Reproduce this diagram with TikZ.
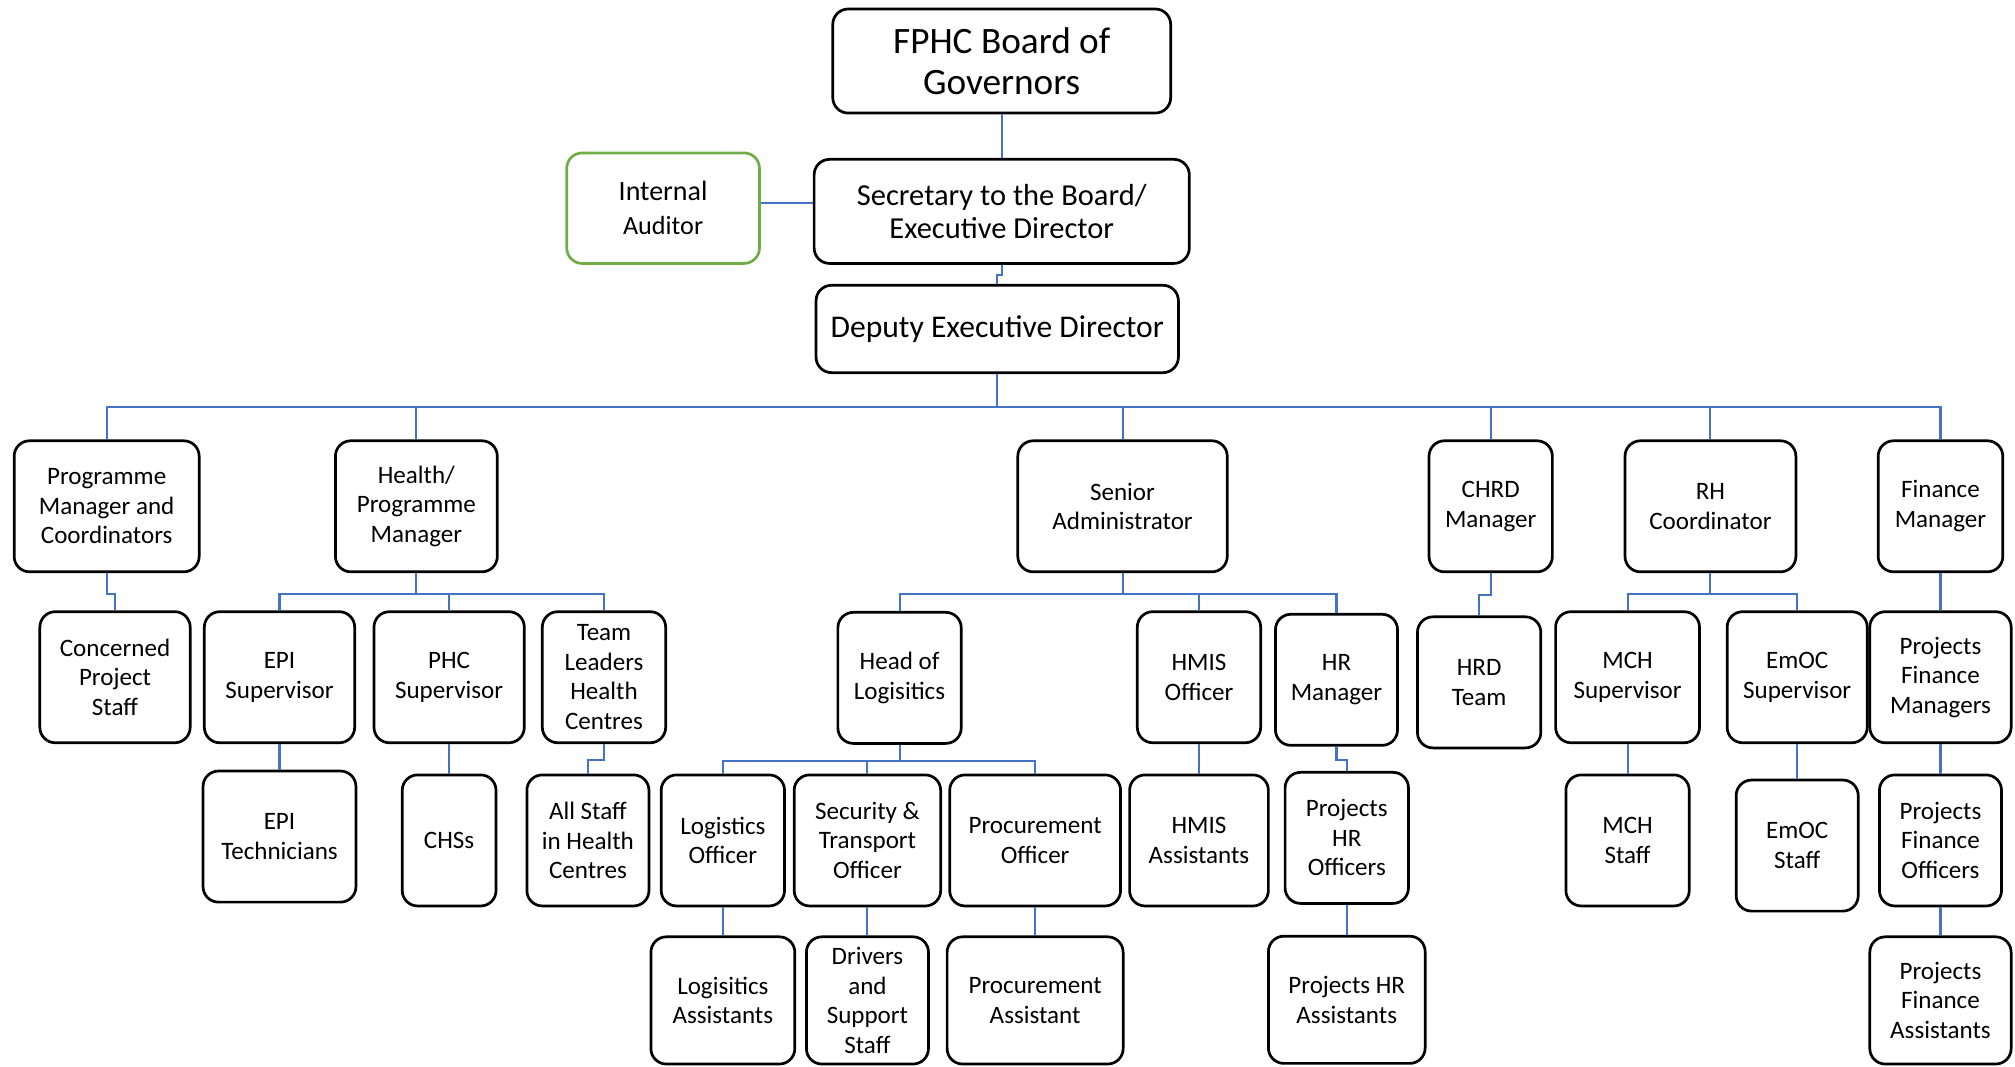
\documentclass[tikz,border=0pt]{standalone}
\usepackage{fontspec}
\setmainfont{Carlito}
\definecolor{linkblue}{HTML}{4472C4}
\definecolor{audgreen}{HTML}{70AD47}

\begin{document}
\begin{tikzpicture}[x=0.02cm,y=-0.02cm,
  box/.style={draw=black,line width=1.2pt,rounded corners=0.24cm,align=center,
    inner sep=1pt,font=\fontsize{11.1pt}{13.1pt}\selectfont},
  unit/.style={box,minimum height=2.04cm},
  link/.style={draw=linkblue,line width=0.9pt}]
\useasboundingbox (0,0) rectangle (1568,830);
% board and directors
\node[box,minimum width=5.26cm,minimum height=1.62cm,font=\fontsize{16.5pt}{18.2pt}\selectfont] (board) at (779.5,47.5) {FPHC Board of\\Governors};
\node[box,minimum width=5.84cm,minimum height=1.62cm,font=\fontsize{13.5pt}{14.8pt}\selectfont] (sec) at (779.5,164.5) {Secretary to the Board/\\Executive Director};
\node[box,draw=audgreen,minimum width=3.0cm,minimum height=1.72cm] (aud) at (516,162) {{\fontsize{12.4pt}{14.8pt}\selectfont Internal}\\[2pt]{\fontsize{11.6pt}{13.1pt}\selectfont Auditor}};
\node[box,minimum width=5.64cm,minimum height=1.36cm,font=\fontsize{14pt}{14.8pt}\selectfont] (dep) at (776,256) {Deputy Executive Director};
% heads
\node[unit,minimum width=2.88cm] (pm) at (83,394) {Programme\\Manager and\\Coordinators};
\node[unit,minimum width=2.52cm] (health) at (324,394) {Health/\\Programme\\Manager};
\node[unit,minimum width=3.26cm] (senior) at (873.5,394) {Senior\\Administrator};
\node[unit,minimum width=1.92cm] (chrd) at (1160,394) {CHRD\\Manager};
\node[unit,minimum width=2.66cm] (rh) at (1331,394) {RH\\Coordinator};
\node[unit,minimum width=1.94cm] (fin) at (1510,394) {Finance\\Manager};
% third row
\node[unit,minimum width=2.34cm] (cps) at (89.5,527) {Concerned\\Project\\Staff};
\node[unit,minimum width=2.34cm] (episup) at (217.5,527) {EPI\\Supervisor};
\node[unit,minimum width=2.34cm] (phcsup) at (349.5,527) {PHC\\Supervisor};
\node[unit,minimum width=1.92cm] (tl) at (470,527) {Team\\Leaders\\Health\\Centres};
\node[unit,minimum width=1.92cm] (hol) at (700,527.5) {Head of\\Logisitics};
\node[unit,minimum width=1.92cm] (hmiso) at (933,527) {HMIS\\Officer};
\node[unit,minimum width=1.90cm] (hrm) at (1040,529) {HR\\Manager};
\node[unit,minimum width=1.92cm] (hrd) at (1151,531) {HRD\\Team};
\node[unit,minimum width=2.24cm] (mchsup) at (1266.5,527) {MCH\\Supervisor};
\node[unit,minimum width=2.18cm] (emocsup) at (1398.5,527) {EmOC\\Supervisor};
\node[unit,minimum width=2.20cm] (pfm) at (1510,527) {Projects\\Finance\\Managers};
% fourth row
\node[unit,minimum width=2.38cm] (epitech) at (217.5,651) {EPI\\Technicians};
\node[unit,minimum width=1.46cm] (chss) at (349.5,654) {CHSs};
\node[unit,minimum width=1.90cm] (allstaff) at (457.5,654) {All Staff\\in Health\\Centres};
\node[unit,minimum width=1.92cm] (logo) at (562.5,654) {Logistics\\Officer};
\node[unit,minimum width=2.28cm] (seco) at (675,654) {Security \&\\Transport\\Officer};
\node[unit,minimum width=2.66cm] (proco) at (805.5,654) {Procurement\\Officer};
\node[unit,minimum width=2.16cm] (hmisa) at (933,654) {HMIS\\Assistants};
\node[unit,minimum width=1.92cm] (phro) at (1048,652) {Projects\\HR\\Officers};
\node[unit,minimum width=1.92cm] (mchstaff) at (1266.5,654) {MCH\\Staff};
\node[unit,minimum width=1.90cm] (emocstaff) at (1398.5,658) {EmOC\\Staff};
\node[unit,minimum width=1.90cm] (pfo) at (1510,654) {Projects\\Finance\\Officers};
% bottom row
\node[unit,minimum width=2.24cm,minimum height=1.98cm] (loga) at (562.5,778.5) {Logisitics\\Assistants};
\node[unit,minimum width=1.90cm,minimum height=1.98cm] (drivers) at (675,778.5) {Drivers\\and\\Support\\Staff};
\node[unit,minimum width=2.74cm,minimum height=1.98cm] (proca) at (805.5,778.5) {Procurement\\Assistant};
\node[unit,minimum width=2.44cm,minimum height=1.98cm] (phra) at (1048,778) {Projects HR\\Assistants};
\node[unit,minimum width=2.20cm,minimum height=1.98cm] (pfa) at (1510,778.5) {Projects\\Finance\\Assistants};
% links top
\draw[link] (board.south) -- (sec.north);
\draw[link] ([yshift=0.08cm]aud.east) -- ([yshift=0.08cm]aud.east -| sec.west);
\draw[link] (sec.south) -- ++(0,8) -| (dep.north);
\foreach \n in {pm,health,senior,chrd,rh,fin}
  \draw[link] (dep.south) -- ++(0,26) -| (\n.north);
% links below heads
\draw[link] (pm.south) -- ++(0,16) -| (cps.north);
\foreach \n in {episup,phcsup,tl}
  \draw[link] (health.south) -- ++(0,16) -| (\n.north);
\foreach \n in {hol,hmiso,hrm}
  \draw[link] (senior.south) -- ++(0,16) -| (\n.north);
\draw[link] (chrd.south) -- ++(0,17) -| (hrd.north);
\foreach \n in {mchsup,emocsup}
  \draw[link] (rh.south) -- ++(0,16) -| (\n.north);
\draw[link] (fin.south) -- (pfm.north);
% links lower rows
\draw[link] (episup.south) -- (epitech.north);
\draw[link] (phcsup.south) -- (chss.north);
\draw[link] (tl.south) -- ++(0,12) -| (allstaff.north);
\foreach \n in {logo,seco,proco}
  \draw[link] (hol.south) -- ++(0,13) -| (\n.north);
\draw[link] (hmiso.south) -- (hmisa.north);
\draw[link] (hrm.south) -- ++(0,10) -| (phro.north);
\draw[link] (mchsup.south) -- (mchstaff.north);
\draw[link] (emocsup.south) -- (emocstaff.north);
\draw[link] (pfm.south) -- (pfo.north);
\draw[link] (logo.south) -- (loga.north);
\draw[link] (seco.south) -- (drivers.north);
\draw[link] (proco.south) -- (proca.north);
\draw[link] (phro.south) -- (phra.north);
\draw[link] (pfo.south) -- (pfa.north);
\end{tikzpicture}
\end{document}
